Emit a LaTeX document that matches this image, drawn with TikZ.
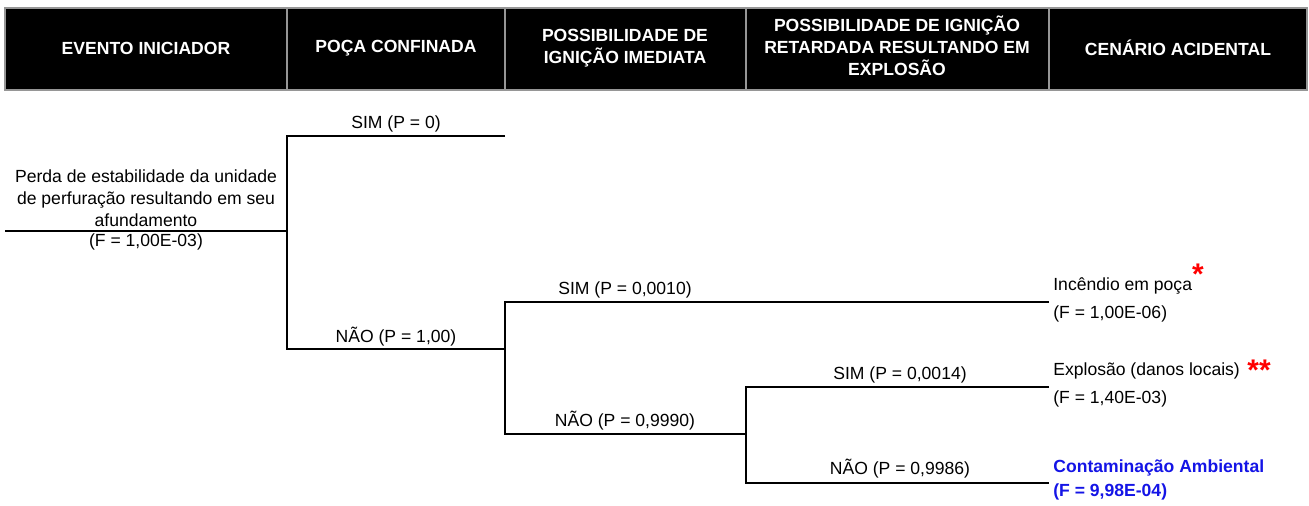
\documentclass[tikz,border=0pt]{standalone}
\usepackage{fontspec}
\setmainfont{Liberation Sans}
\usetikzlibrary{positioning}
\definecolor{headgray}{RGB}{150,150,150}
\definecolor{resblue}{RGB}{20,20,230}

\begin{document}
\begin{tikzpicture}[x=0.02cm, y=-0.02cm, font=\fontsize{10}{12.5}\selectfont,
  branch/.style={line width=1.1pt},
  head/.style={text=white, font=\fontsize{10}{12.5}\selectfont\bfseries, align=center, inner sep=0pt},
  prob/.style={inner sep=0pt},
  result/.style={anchor=west, inner sep=0pt},
  mark red/.style={text=red, font=\fontsize{17}{17}\selectfont\bfseries, inner sep=0pt}]
  \useasboundingbox (0,0) rectangle (1309,505);
  % Header
  \draw[headgray, line width=1pt, fill=black] (5,8) rectangle (1307,90);
  \foreach \x in {287,505,746,1049}
    \draw[headgray, line width=1pt] (\x,8) -- (\x,90);
  \node[head] (h1) at (146,48) {EVENTO INICIADOR};
  \node[head] (h2) at (396,48) {POÇA CONFINADA};
  \node[head] (h3) at (625,48) {POSSIBILIDADE DE\\IGNIÇÃO IMEDIATA};
  \node[head] (h4) at (897,46) {POSSIBILIDADE DE IGNIÇÃO\\RETARDADA RESULTANDO EM\\EXPLOSÃO};
  \node[head] (h5) at (1178,48) {CENÁRIO ACIDENTAL};
  % Evento iniciador
  \coordinate (e0) at (5,231);
  \coordinate (b1) at (287,231);
  \node[align=center, inner sep=0pt, anchor=south] (ev) at (146,227)
    {Perda de estabilidade da unidade\\de perfuração resultando em seu\\afundamento};
  \node[inner sep=0pt] (evf) at (146,242) {(F = 1,00E-03)};
  \draw[branch] (e0) -- (b1);
  % Poca confinada
  \coordinate (b1s) at (287,136); \coordinate (s1) at (505,136);
  \coordinate (b1n) at (287,349); \coordinate (b2) at (505,349);
  \draw[branch] (s1) -- (b1s) -- (b1n) -- (b2);
  \node[prob] (p1s) at (396,124) {SIM (P = 0)};
  \node[prob] (p1n) at (396,337) {NÃO (P = 1,00)};
  % Ignicao imediata
  \coordinate (b2s) at (505,302); \coordinate (s2) at (1049,302);
  \coordinate (b2n) at (505,434); \coordinate (b3) at (746,434);
  \draw[branch] (s2) -- (b2s) -- (b2n) -- (b3);
  \node[prob] (p2s) at (625,290) {SIM (P = 0,0010)};
  \node[prob] (p2n) at (625,421) {NÃO (P = 0,9990)};
  % Ignicao retardada
  \coordinate (b3s) at (746,387); \coordinate (s3) at (1049,387);
  \coordinate (b3n) at (746,483); \coordinate (n3) at (1049,483);
  \draw[branch] (s3) -- (b3s) -- (b3n) -- (n3);
  \node[prob] (p3s) at (900,375) {SIM (P = 0,0014)};
  \node[prob] (p3n) at (900,469) {NÃO (P = 0,9986)};
  % Cenarios
  \node[result] (c1) at (1053,286) {Incêndio em poça};
  \node[result] (c1f) at (1053,314) {(F = 1,00E-06)};
  \node[mark red] (c1m) at (1198,274) {*};
  \node[result] (c2) at (1053,371) {Explosão (danos locais)};
  \node[result] (c2f) at (1053,399) {(F = 1,40E-03)};
  \node[mark red] (c2m) at (1259,370) {**};
  \node[result, text=resblue, font=\fontsize{10}{12.5}\selectfont\bfseries] (c3) at (1053,468) {Contaminação Ambiental};
  \node[result, text=resblue, font=\fontsize{10}{12.5}\selectfont\bfseries] (c3f) at (1053,492) {(F = 9,98E-04)};
\end{tikzpicture}
\end{document}
